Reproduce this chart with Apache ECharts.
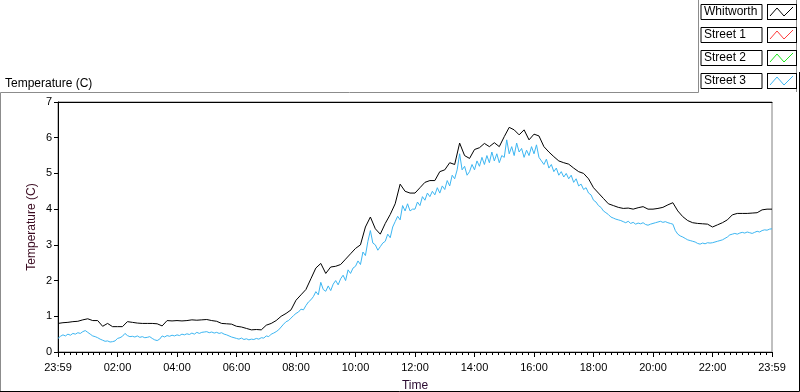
<!DOCTYPE html>
<html>
<head>
<meta charset="utf-8">
<script src="https://cdn.jsdelivr.net/npm/echarts@6/dist/echarts.min.js"></script>
<style>
  html, body { margin: 0; padding: 0; background: #fff; }
  #chart { width: 800px; height: 392px; }
</style>
</head>
<body>
<div id="chart"></div>
<script>
// tick labels of the time axis (every 2 hours)
var xLabels = ['23:59', '02:00', '04:00', '06:00', '08:00', '10:00', '12:00',
               '14:00', '16:00', '18:00', '20:00', '22:00', '23:59'];

// Whitworth, one reading every 10 minutes
var whitworth = [
  0.80, 0.82, 0.83, 0.85, 0.86, 0.90,
  0.93, 0.88, 0.88, 0.72, 0.80, 0.71,
  0.71, 0.71, 0.85, 0.83, 0.81, 0.80,
  0.80, 0.80, 0.79, 0.73, 0.88, 0.87,
  0.88, 0.87, 0.88, 0.90, 0.89, 0.90,
  0.91, 0.88, 0.86, 0.80, 0.79, 0.78,
  0.72, 0.70, 0.66, 0.62, 0.63, 0.62,
  0.75, 0.80, 0.88, 1.00, 1.08, 1.18,
  1.45, 1.60, 1.75, 2.05, 2.35, 2.48,
  2.20, 2.38, 2.40, 2.45, 2.60, 2.75,
  2.90, 3.00, 3.50, 3.78, 3.45, 3.30,
  3.60, 3.85, 4.15, 4.70, 4.50, 4.45,
  4.45, 4.60, 4.75, 4.80, 4.80, 5.05,
  5.10, 5.30, 5.25, 5.85, 5.50, 5.42,
  5.67, 5.72, 5.84, 5.75, 5.86, 5.75,
  6.03, 6.29, 6.22, 6.08, 6.22, 5.94,
  6.10, 6.05, 5.75, 5.60, 5.47, 5.35,
  5.30, 5.26, 5.15, 5.05, 5.00, 4.85,
  4.60, 4.45, 4.30, 4.15, 4.10, 4.05,
  4.02, 4.03, 4.00, 4.04, 4.07, 4.00,
  4.00, 4.02, 4.05, 4.12, 4.18, 3.95,
  3.79, 3.68, 3.62, 3.60, 3.59, 3.58,
  3.50, 3.56, 3.62, 3.70, 3.84, 3.88,
  3.88, 3.88, 3.89, 3.90, 3.98, 4.00,
  4.00
];

// Street 1 and Street 2 have no readings on this chart
var street1 = [];
var street2 = [];

// Street 3, one reading every 5 minutes
var street3 = [
  0.38, 0.44, 0.48, 0.45, 0.50, 0.47, 0.52, 0.50, 0.54, 0.52, 0.57, 0.60,
  0.55, 0.50, 0.45, 0.43, 0.40, 0.36, 0.33, 0.30, 0.31, 0.28, 0.29, 0.31,
  0.38, 0.40, 0.44, 0.52, 0.46, 0.43, 0.44, 0.42, 0.45, 0.41, 0.43, 0.40,
  0.41, 0.43, 0.38, 0.34, 0.32, 0.36, 0.45, 0.42, 0.46, 0.44, 0.47, 0.45,
  0.48, 0.46, 0.50, 0.48, 0.51, 0.49, 0.53, 0.50, 0.55, 0.52, 0.55, 0.56,
  0.57, 0.54, 0.56, 0.53, 0.55, 0.52, 0.54, 0.50, 0.48, 0.45, 0.42, 0.40,
  0.38, 0.36, 0.39, 0.35, 0.37, 0.34, 0.36, 0.35, 0.38, 0.36, 0.40, 0.39,
  0.45, 0.43, 0.50, 0.53, 0.57, 0.62, 0.70, 0.78, 0.85, 0.88, 0.95, 1.02,
  1.08, 1.12, 1.20, 1.18, 1.30, 1.40, 1.46, 1.55, 1.69, 1.60, 1.95, 1.75,
  1.70, 1.85, 1.72, 1.90, 2.00, 1.88, 2.05, 2.15, 2.00, 2.30, 2.20, 2.35,
  2.40, 2.55, 2.45, 2.80, 2.70, 3.10, 3.40, 3.05, 3.00, 2.85, 2.95, 3.05,
  3.10, 3.30, 3.20, 3.50, 3.65, 3.80, 3.70, 4.10, 3.95, 4.15, 3.95, 4.00,
  4.00, 4.20, 4.10, 4.35, 4.25, 4.45, 4.35, 4.50, 4.40, 4.60, 4.45, 4.65,
  4.55, 4.80, 4.65, 4.95, 4.85, 5.10, 5.55, 5.10, 5.20, 4.95, 5.05, 5.25,
  5.10, 5.35, 5.20, 5.45, 5.25, 5.50, 5.30, 5.60, 5.35, 5.55, 5.30, 5.50,
  5.45, 5.94, 5.55, 5.75, 5.50, 5.85, 5.60, 5.70, 5.45, 5.65, 5.50, 5.75,
  5.55, 5.80, 5.45, 5.35, 5.25, 5.40, 5.15, 5.25, 5.05, 5.15, 4.95, 5.05,
  4.90, 5.00, 4.85, 4.95, 4.75, 4.85, 4.65, 4.70, 4.55, 4.60, 4.45, 4.40,
  4.25, 4.20, 4.10, 4.05, 3.95, 3.90, 3.85, 3.78, 3.75, 3.72, 3.70, 3.68,
  3.65, 3.62, 3.66, 3.60, 3.63, 3.58, 3.61, 3.59, 3.62, 3.57, 3.55, 3.58,
  3.60, 3.62, 3.64, 3.66, 3.63, 3.65, 3.62, 3.60, 3.58, 3.40, 3.30, 3.25,
  3.22, 3.18, 3.14, 3.12, 3.10, 3.08, 3.04, 3.02, 3.05, 3.03, 3.06, 3.05,
  3.06, 3.08, 3.10, 3.12, 3.14, 3.18, 3.22, 3.28, 3.30, 3.32, 3.30, 3.33,
  3.35, 3.33, 3.36, 3.34, 3.32, 3.35, 3.38, 3.36, 3.40, 3.42, 3.41, 3.44,
  3.45
];

var font = 'Liberation Sans, Arial, sans-serif';

// minutes since 23:59 -> [x, y] pairs
function toPairs(arr, step) {
  return arr.map(function (v, i) { return [i * step, v]; });
}

// little framed zig-zag used as legend icon
function legendIcon(color) {
  var svg = "<svg xmlns='http://www.w3.org/2000/svg' width='30' height='16'>" +
    "<rect x='0.5' y='0.5' width='29' height='15' fill='white' stroke='black'/>" +
    "<polyline points='3,12 10,4 17,12 26,3' fill='none' stroke='" + color + "' stroke-width='1'/></svg>";
  return 'image://data:image/svg+xml;charset=utf-8,' + encodeURIComponent(svg);
}

var chart = echarts.init(document.getElementById('chart'));
chart.setOption({
  animation: false,
  backgroundColor: '#fff',
  textStyle: { fontFamily: font },
  title: {
    text: 'Temperature (C)',
    left: 5,
    top: 78,
    padding: 0,
    textStyle: { fontFamily: font, fontSize: 12, fontWeight: 'normal', color: '#000' }
  },
  legend: {
    orient: 'vertical',
    right: 3,
    top: 4,
    padding: 0,
    align: 'right',
    itemWidth: 30,
    itemHeight: 16,
    itemGap: 7,
    selectedMode: false,
    data: [
      { name: 'Whitworth', icon: legendIcon('#000000') },
      { name: 'Street 1', icon: legendIcon('#ff3b3b') },
      { name: 'Street 2', icon: legendIcon('#1ee61e') },
      { name: 'Street 3', icon: legendIcon('#3cb6f2') }
    ],
    formatter: function (name) { return '{t|' + name + '}'; },
    textStyle: {
      fontFamily: font,
      fontSize: 12,
      color: '#000',
      padding: [0, 3],
      borderColor: '#000',
      borderWidth: 1,
      rich: {
        t: { width: 55, height: 15, lineHeight: 15, align: 'left', fontFamily: font, fontSize: 12, color: '#000' }
      }
    }
  },
  grid: {
    left: 58,
    right: 28,
    top: 102,
    bottom: 40,
    outerBoundsMode: 'none',
    containLabel: false,
    show: true,
    borderColor: '#808080',
    borderWidth: 1,
    backgroundColor: '#fff'
  },
  xAxis: [
    {
      type: 'value',
      min: 0,
      max: 1440,
      interval: 120,
      name: 'Time',
      nameLocation: 'middle',
      nameGap: 28,
      nameTextStyle: { fontFamily: font, fontSize: 12, color: '#2a0a30' },
      axisLine: { lineStyle: { color: '#000', width: 1 } },
      axisTick: { length: 5, lineStyle: { color: '#000' } },
      minorTick: { show: true, splitNumber: 10, length: 3, lineStyle: { color: '#000' } },
      splitLine: { show: false },
      axisLabel: {
        margin: 10,
        fontFamily: font,
        fontSize: 11,
        color: '#000',
        formatter: function (v) { return xLabels[Math.round(v / 120)]; }
      }
    },
    {
      type: 'value',
      position: 'top',
      min: 0,
      max: 1440,
      axisLine: { show: true, lineStyle: { color: '#000', width: 1 } },
      axisTick: { show: false },
      axisLabel: { show: false },
      splitLine: { show: false }
    }
  ],
  yAxis: {
    type: 'value',
    min: 0,
    max: 7,
    interval: 1,
    name: 'Temperature (C)',
    nameLocation: 'middle',
    nameGap: 20,
    nameMoveOverlap: false,
    nameTextStyle: { fontFamily: font, fontSize: 12, color: '#3a0a20' },
    axisLine: { show: true, lineStyle: { color: '#000', width: 1 } },
    axisTick: { show: true, length: 4, lineStyle: { color: '#000' } },
    splitLine: { show: false },
    axisLabel: { margin: 6, fontFamily: font, fontSize: 11, color: '#000' }
  },
  series: [
    {
      name: 'Whitworth', type: 'line', showSymbol: false, symbol: 'none',
      color: '#000000', lineStyle: { width: 1, color: '#000000' },
      data: toPairs(whitworth, 10), z: 3
    },
    {
      name: 'Street 1', type: 'line', showSymbol: false, symbol: 'none',
      color: '#ff3b3b', lineStyle: { width: 1 }, data: toPairs(street1, 5)
    },
    {
      name: 'Street 2', type: 'line', showSymbol: false, symbol: 'none',
      color: '#1ee61e', lineStyle: { width: 1 }, data: toPairs(street2, 5)
    },
    {
      name: 'Street 3', type: 'line', showSymbol: false, symbol: 'none',
      color: '#3cb6f2', lineStyle: { width: 1, color: '#3cb6f2' },
      data: toPairs(street3, 5), z: 2
    }
  ],
  graphic: [
    // outer frame: light top/left, dark bottom/right
    { type: 'polyline', silent: true, shape: { points: [[0.5, 391], [0.5, 92.5], [698.5, 92.5], [698.5, 0]] },
      style: { stroke: '#8c8c8c', lineWidth: 1, fill: null } },
    { type: 'line', silent: true, shape: { x1: 796.5, y1: 0, x2: 796.5, y2: 92 },
      style: { stroke: '#8c8c8c', lineWidth: 1 } },
    { type: 'polyline', silent: true, shape: { points: [[0, 391.5], [799.5, 391.5], [799.5, 72]] },
      style: { stroke: '#000', lineWidth: 1, fill: null } }
  ]
});
</script>
</body>
</html>
